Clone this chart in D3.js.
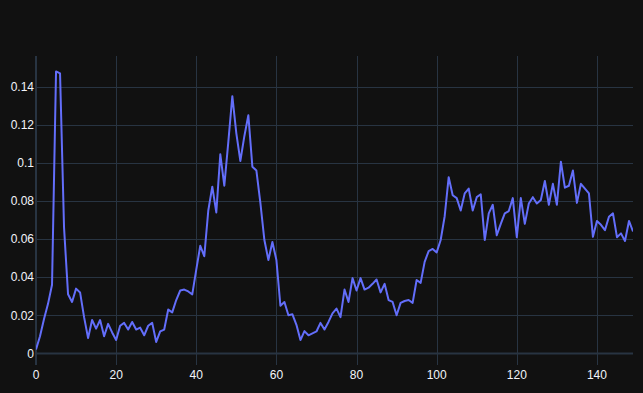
<!DOCTYPE html>
<html>
<head>
<meta charset="utf-8">
<script src="https://cdn.jsdelivr.net/npm/d3@7"></script>
<style>
  html, body { margin: 0; padding: 0; background: #111111; }
  svg { display: block; }
  .tick-label { font-family: "Liberation Sans", Arial, sans-serif; font-size: 12px; fill: #f2f5fa; }
</style>
</head>
<body>
<div id="chart"></div>
<script>
// series values, one per step 0..149
const values = [
  0.002, 0.009, 0.018, 0.026, 0.036, 0.148, 0.147, 0.066, 0.031, 0.027,
  0.034, 0.032, 0.019, 0.008, 0.0175, 0.013, 0.0175, 0.009, 0.0155, 0.011,
  0.007, 0.0145, 0.016, 0.0125, 0.0165, 0.0125, 0.0135, 0.0095, 0.0145, 0.016,
  0.006, 0.0115, 0.0125, 0.023, 0.0215, 0.028, 0.033, 0.0335, 0.0325, 0.031,
  0.044, 0.0565, 0.051, 0.075, 0.0875, 0.074, 0.1045, 0.088, 0.111, 0.135,
  0.1155, 0.101, 0.114, 0.125, 0.098, 0.096, 0.079, 0.0595, 0.049, 0.0585,
  0.049, 0.025, 0.027, 0.020, 0.0205, 0.015, 0.007, 0.0117, 0.0095, 0.0105,
  0.0115, 0.016, 0.0125, 0.0165, 0.021, 0.0235, 0.019, 0.0335, 0.027, 0.0395,
  0.033, 0.0395, 0.0335, 0.0345, 0.0365, 0.0388, 0.032, 0.0365, 0.028, 0.027,
  0.020, 0.0265, 0.0275, 0.028, 0.0265, 0.0385, 0.037, 0.048, 0.0537, 0.0548,
  0.053, 0.0595, 0.072, 0.0925, 0.083, 0.0815, 0.075, 0.084, 0.0865, 0.075,
  0.082, 0.0835, 0.0595, 0.0735, 0.078, 0.062, 0.068, 0.0735, 0.0747, 0.0815,
  0.061, 0.0815, 0.068, 0.0787, 0.082, 0.0787, 0.0805, 0.0905, 0.078, 0.089,
  0.078, 0.1006, 0.087, 0.088, 0.096, 0.079, 0.089, 0.0865, 0.084, 0.0612,
  0.0695, 0.0675, 0.0647, 0.0717, 0.0735, 0.061, 0.063, 0.059, 0.0695, 0.064
];
const steps = values.map((v, i) => i);

// tick labels
const xTicks = [0, 20, 40, 60, 80, 100, 120, 140];
const yTicks = [0, 0.02, 0.04, 0.06, 0.08, 0.1, 0.12, 0.14];

const W = 643, H = 393;
const plot = { left: 36, right: 633, top: 56, bottom: 365 };

const svg = d3.select('#chart').append('svg')
  .attr('width', W)
  .attr('height', H);

svg.append('rect').attr('width', W).attr('height', H).attr('fill', '#111111');

const x = d3.scaleLinear().domain([0, 149]).range([plot.left, plot.right]);
const y = d3.scaleLinear().domain([-0.0061, 0.1561]).range([plot.bottom, plot.top]);

// grid
const grid = svg.append('g');
grid.selectAll('.vgrid')
  .data(xTicks.filter(d => d !== 0))
  .join('line')
  .attr('x1', d => Math.round(x(d)) + 0.5)
  .attr('x2', d => Math.round(x(d)) + 0.5)
  .attr('y1', plot.top)
  .attr('y2', plot.bottom)
  .attr('stroke', '#283442')
  .attr('stroke-width', 1);

grid.selectAll('.hgrid')
  .data(yTicks.filter(d => d !== 0))
  .join('line')
  .attr('x1', plot.left)
  .attr('x2', plot.right)
  .attr('y1', d => Math.round(y(d)) + 0.5)
  .attr('y2', d => Math.round(y(d)) + 0.5)
  .attr('stroke', '#283442')
  .attr('stroke-width', 1);

// zero lines
grid.append('line')
  .attr('x1', x(0)).attr('x2', x(0))
  .attr('y1', plot.top).attr('y2', plot.bottom)
  .attr('stroke', '#283442').attr('stroke-width', 2);
grid.append('line')
  .attr('x1', plot.left).attr('x2', plot.right)
  .attr('y1', y(0)).attr('y2', y(0))
  .attr('stroke', '#283442').attr('stroke-width', 2);

// tick labels
svg.append('g').selectAll('text')
  .data(xTicks)
  .join('text')
  .attr('class', 'tick-label')
  .attr('x', d => x(d))
  .attr('y', plot.bottom + 14)
  .attr('text-anchor', 'middle')
  .text(d => d);

svg.append('g').selectAll('text')
  .data(yTicks)
  .join('text')
  .attr('class', 'tick-label')
  .attr('x', plot.left - 2)
  .attr('y', d => y(d) + 4.3)
  .attr('text-anchor', 'end')
  .text(d => d3.format('~g')(d));

// line
const line = d3.line()
  .x((d, i) => x(steps[i]))
  .y(d => y(d));

svg.append('defs').append('clipPath').attr('id', 'clip')
  .append('rect')
  .attr('x', plot.left).attr('y', plot.top)
  .attr('width', plot.right - plot.left).attr('height', plot.bottom - plot.top);

svg.append('path')
  .datum(values)
  .attr('clip-path', 'url(#clip)')
  .attr('fill', 'none')
  .attr('stroke', '#636efa')
  .attr('stroke-width', 2)
  .attr('stroke-linejoin', 'round')
  .attr('d', line);
</script>
</body>
</html>
